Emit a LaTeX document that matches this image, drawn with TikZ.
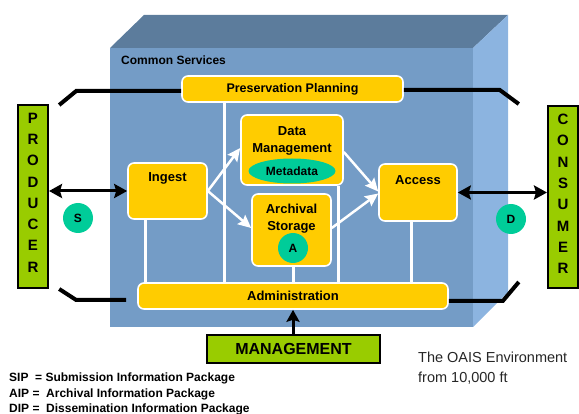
\documentclass[tikz,border=0pt]{standalone}
\usepackage{fontspec}
\setmainfont{Liberation Sans}
\usetikzlibrary{arrows.meta,shapes.geometric}
\definecolor{cubefront}{RGB}{116,156,198}
\definecolor{cubetop}{RGB}{92,124,156}
\definecolor{cuberight}{RGB}{140,180,224}
\definecolor{oyellow}{RGB}{255,204,0}
\definecolor{ogreen}{RGB}{153,204,0}
\definecolor{oteal}{RGB}{0,204,153}
\newcommand{\fsz}[2]{\fontsize{#1}{#2}\selectfont}
\begin{document}
\begin{tikzpicture}[x=1pt,y=-1pt,
  ybox/.style={draw=white, line width=1.6pt, fill=oyellow, rounded corners=6pt, inner sep=0pt, font=\bfseries\fsz{12.5}{15}},
  btext/.style={inner sep=0pt, font=\bfseries\fsz{13}{17}, align=center},
  gbox/.style={draw=black, line width=2pt, fill=ogreen, inner sep=0pt},
  vtext/.style={inner sep=0pt, font=\bfseries\fsz{15}{21.3}, align=center},
  tcirc/.style={circle, fill=oteal, minimum size=30pt, inner sep=0pt, font=\bfseries\fsz{12}{14}},
  wline/.style={draw=white, line width=3pt},
  warrow/.style={draw=white, line width=2.5pt, -{Stealth[length=13pt,width=12pt,inset=2pt]}},
  barrow/.style={draw=black, line width=3pt, {Stealth[length=13pt,width=14pt,inset=2pt]}-{Stealth[length=13pt,width=14pt,inset=2pt]}},
  uarrow/.style={draw=black, line width=3pt, -{Stealth[length=12pt,width=13pt,inset=2pt]}},
  bline/.style={draw=black, line width=4pt},
  legend/.style={anchor=west, inner sep=0pt, font=\bfseries\fsz{12}{14}}
]
\useasboundingbox (0,0) rectangle (579,414);
% cube
\fill[cubetop] (110,48) -- (144,15) -- (508,15) -- (473,48) -- cycle;
\fill[cuberight] (473,48) -- (508,15) -- (508,292) -- (473,327) -- cycle;
\fill[cubefront] (110,48) rectangle (473,327);
\node[anchor=west, inner sep=0pt, font=\bfseries\fsz{12}{14}] (cs) at (121,60) {Common Services};

% boxes
\node[ybox, minimum width=221pt, minimum height=26pt] (pres) at (292.5,89) {Preservation Planning};
\node[ybox, minimum width=310pt, minimum height=26pt, font=\bfseries\fsz{13}{15}] (admin) at (293,296) {Administration};
\node[ybox, minimum width=79pt, minimum height=56pt] (ingest) at (167.5,191) {};
\node[btext] (ingestt) at (167.5,178) {Ingest};
\node[ybox, minimum width=78pt, minimum height=57pt] (access) at (418,192.5) {};
\node[btext] (accesst) at (418,180) {Access};
\node[ybox, minimum width=102pt, minimum height=70pt] (dm) at (292,150) {};
\node[btext] (dmt) at (292,140.5) {Data\\Management};
\node[ellipse, fill=oteal, minimum width=87pt, minimum height=25pt, inner sep=0pt, font=\bfseries\fsz{12}{14}] (meta) at (292,171) {Metadata};
\node[ybox, minimum width=79pt, minimum height=72pt] (arch) at (291.5,230) {};
\node[btext] (archt) at (291.5,218.5) {Archival\\Storage};
\node[tcirc] (acirc) at (293,248) {A};

% white connectors to administration
\coordinate (v1) at ([xshift=-22.5pt]ingest.south);
\coordinate (v2) at ([xshift=-68.5pt]pres.south);
\coordinate (v3) at ([xshift=1.5pt]arch.south);
\coordinate (v4) at ([xshift=46pt]dm.south);
\coordinate (v5) at ([xshift=-7pt]access.south);
\draw[wline] (v1) -- (v1 |- admin.north);
\draw[wline] (v2) -- (v2 |- admin.north);
\draw[wline] (v3) -- (v3 |- admin.north);
\draw[wline] (v4) -- (v4 |- admin.north);
\draw[wline] (v5) -- (v5 |- admin.north);

% white arrows
\draw[warrow] (ingest.east) -- ([yshift=2pt]dm.west);
\draw[warrow] (ingest.east) -- ([yshift=2pt]arch.west);
\draw[warrow] ([yshift=-2pt]dm.east) -- ([yshift=1pt]access.west);
\draw[warrow] ([yshift=2pt]arch.east) -- ([yshift=-1pt]access.west);

% producer / consumer
\node[gbox, minimum width=30pt, minimum height=183pt] (producer) at (33,196.5) {};
\node[vtext] (prodt) at ([yshift=4pt]producer.center) {P\\R\\O\\D\\U\\C\\E\\R};
\node[gbox, minimum width=30pt, minimum height=182pt] (consumer) at (563,197) {};
\node[vtext] (const) at ([yshift=3pt]consumer.center) {C\\O\\N\\S\\U\\M\\E\\R};
\draw[barrow] (ingest.west -| producer.east) -- (ingest.west);
\draw[barrow] (access.east) -- (access.east -| consumer.west);
\node[tcirc] (scirc) at (78,218) {S};
\node[tcirc] (dcirc) at (511,219) {D};

% black thick lines
\draw[bline] ([yshift=-2pt]pres.west) -- ++(-105,0) -- ++(-17,14);
\draw[bline] ([yshift=-1pt]pres.east) -- ++(96,0) -- ++(19,14);
\coordinate (blend) at ([xshift=-11pt,yshift=-4pt]admin.west);
\draw[bline] (blend) -- ++(-50,0) -- ++(-17,-11);
\draw[bline] ([yshift=-5pt]admin.east) -- ++(54,0) -- ++(16,-19);

% management
\node[gbox, minimum width=173pt, minimum height=28pt, font=\bfseries\fsz{16}{18}] (mgmt) at (293.5,349) {MANAGEMENT};
\draw[uarrow] (mgmt.north -| admin.south) -- (admin.south);

% legend
\node[legend] (l1) at (9,378) {SIP\ \ = Submission Information Package};
\node[legend] (l2) at (9,394) {AIP =\ \ Archival Information Package};
\node[legend] (l3) at (9,409) {DIP =\ \ Dissemination Information Package};
\node[anchor=west, inner sep=0pt, align=left, font=\fsz{14.5}{20}, text=black!85] (oais) at (418,368) {The OAIS Environment\\from 10,000 ft};
\end{tikzpicture}
\end{document}
